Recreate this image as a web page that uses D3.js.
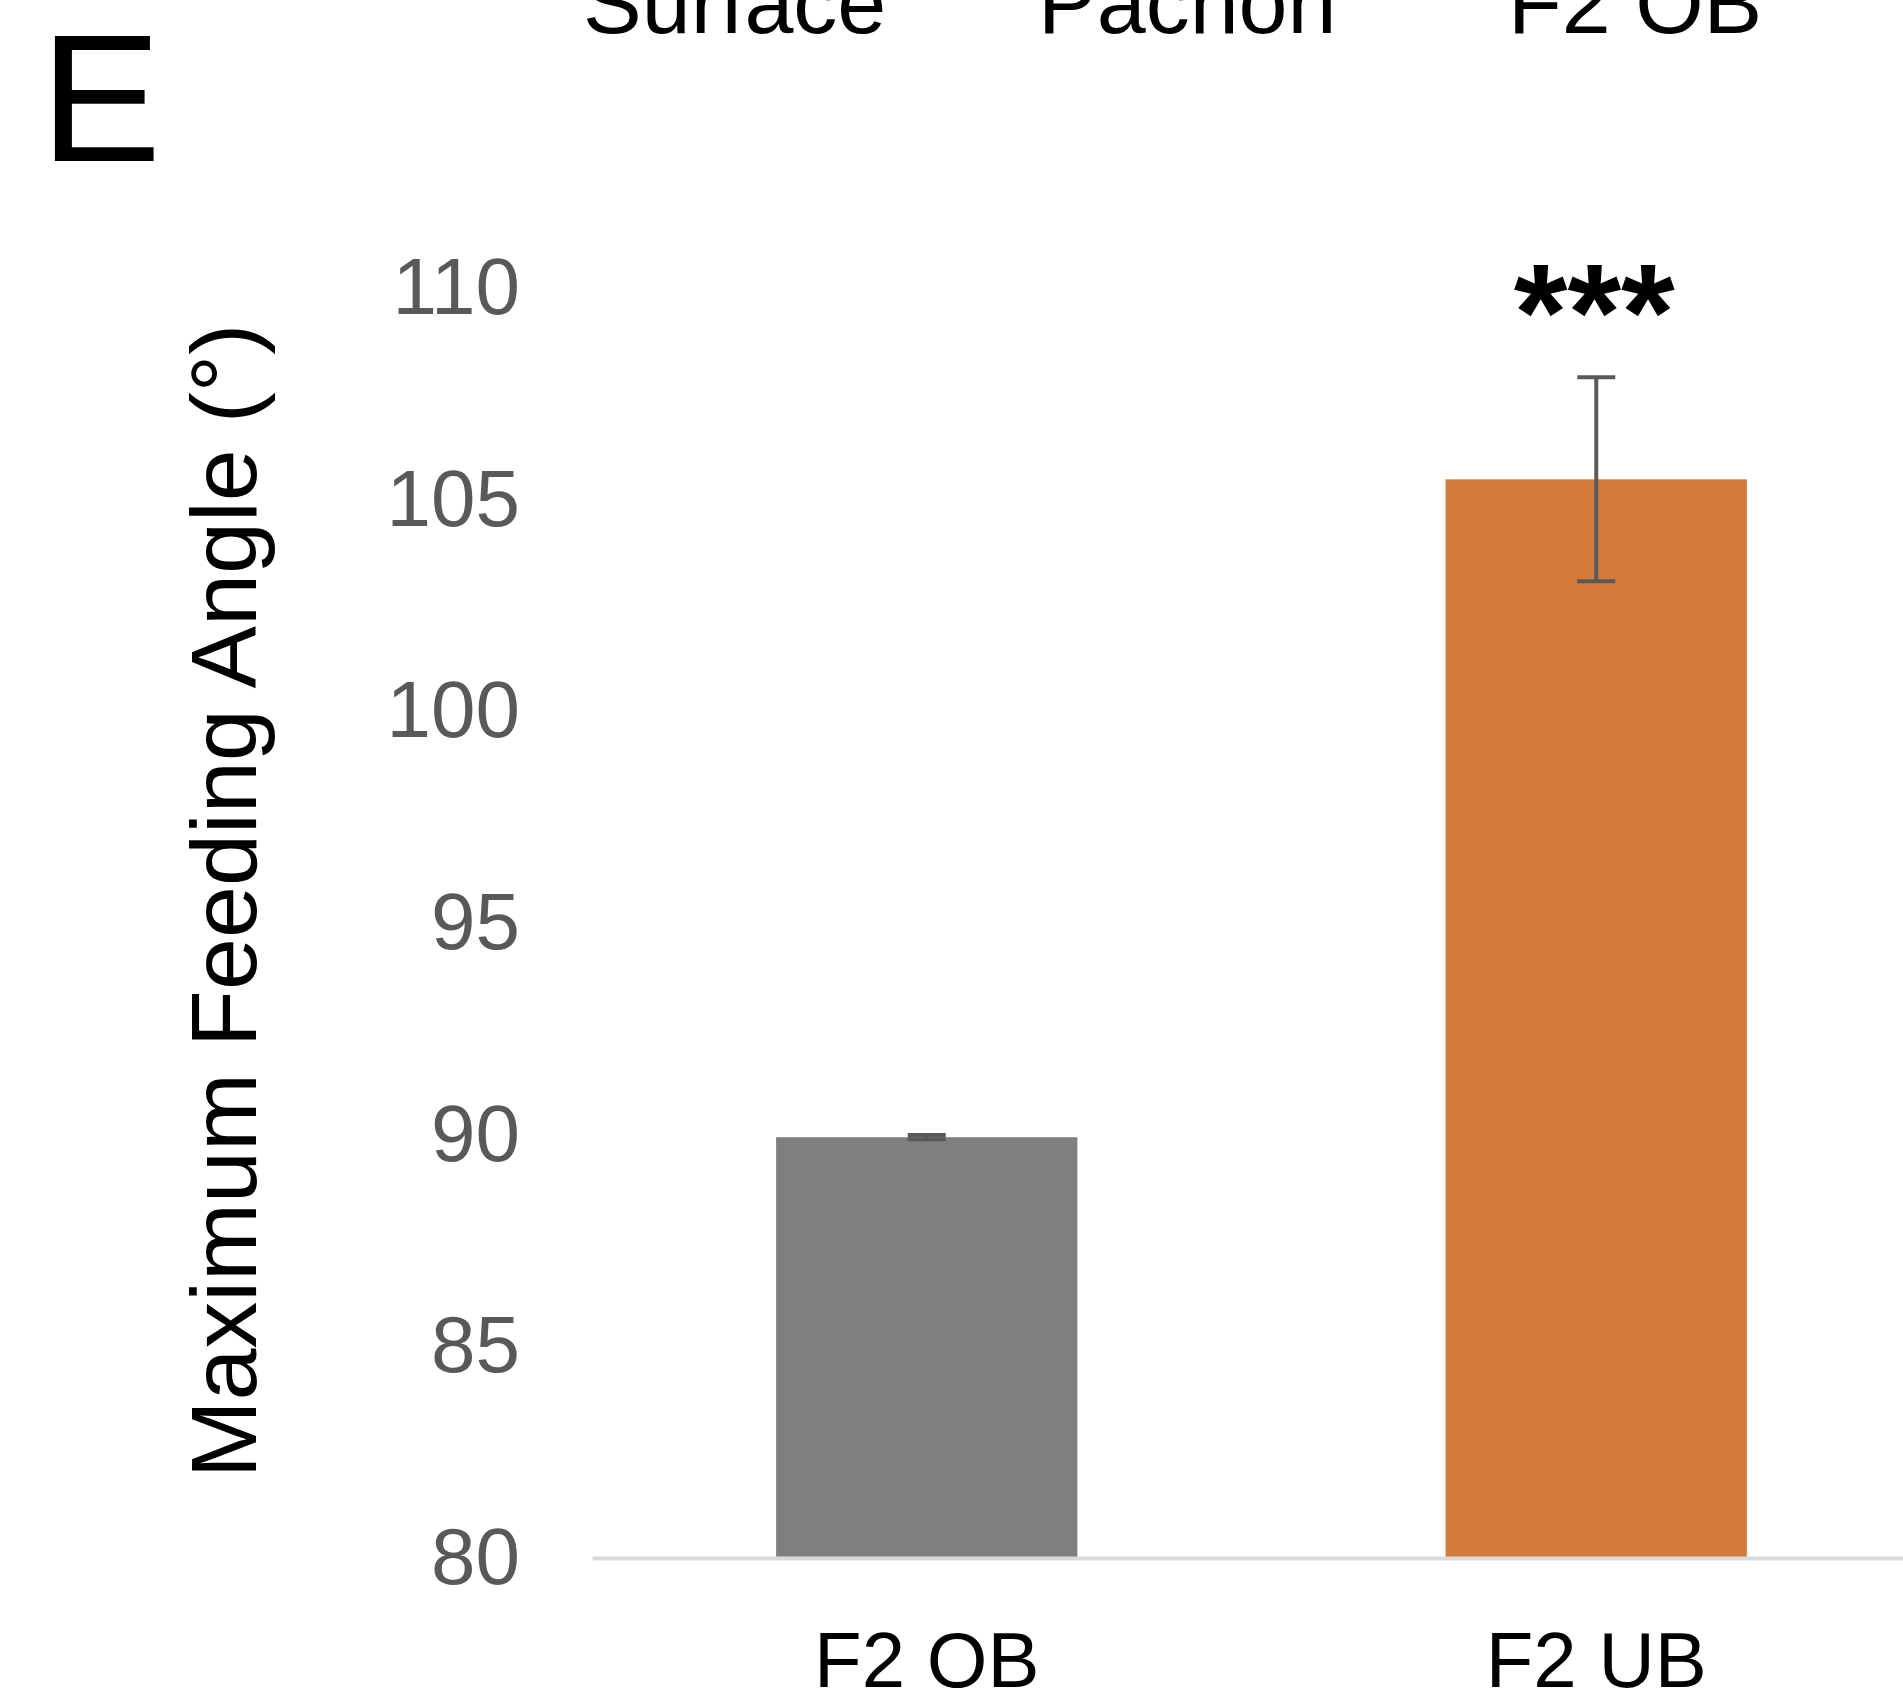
<!DOCTYPE html>
<html>
<head>
<meta charset="utf-8">
<script src="https://cdn.jsdelivr.net/npm/d3@7"></script>
<style>
  html, body { margin: 0; padding: 0; background: #fff; }
  svg { display: block; font-family: "Liberation Sans", Arial, sans-serif; }
</style>
</head>
<body>
<svg id="chart" width="1903" height="1703"></svg>
<script>
// Groups and their mean maximum feeding angle with error (degrees)
const groups = ["F2 OB", "F2 UB"];
const means = [89.94, 105.48];
const errors = [0.05, 2.41];
const barColors = ["#7f7f7f", "#d27b3a"];
const yTicks = [80, 85, 90, 95, 100, 105, 110];
const legendLabels = ["Surface", "Pachon", "F2 OB"];
const legendX = [583, 1038, 1508];
const significance = ["", "***"];

const svg = d3.select("#chart");

const x = d3.scaleBand()
  .domain(groups)
  .range([592, 1931])
  .paddingInner(0.55)
  .paddingOuter(0.275);

const y = d3.scaleLinear()
  .domain([80, 110])
  .range([1558, 288]);

// Panel letter
svg.append("text")
  .attr("x", 40).attr("y", 161)
  .attr("font-size", 182)
  .attr("fill", "#000")
  .text("E");

// Legend labels running off the top edge
svg.append("g").selectAll("text")
  .data(legendLabels)
  .join("text")
  .attr("x", (d, i) => legendX[i])
  .attr("y", 33)
  .attr("font-size", 88)
  .attr("fill", "#000")
  .text(d => d);

// Y axis (labels only)
const yAxis = svg.append("g")
  .attr("transform", "translate(592,0)")
  .call(d3.axisLeft(y).tickValues(yTicks).tickSize(0).tickPadding(72));
yAxis.select(".domain").remove();
yAxis.selectAll("text")
  .attr("font-size", 80)
  .attr("font-family", "Liberation Sans, Arial, sans-serif")
  .attr("fill", "#595959");

// Bars
svg.append("g").selectAll("rect")
  .data(groups)
  .join("rect")
  .attr("x", d => x(d))
  .attr("width", x.bandwidth())
  .attr("y", (d, i) => y(means[i]))
  .attr("height", (d, i) => y(80) - y(means[i]))
  .attr("fill", (d, i) => barColors[i]);

// X axis baseline and category labels
const xAxis = svg.append("g")
  .attr("transform", `translate(0,${y(80)})`)
  .call(d3.axisBottom(x).tickSize(0).tickSizeOuter(0).tickPadding(74));
xAxis.select(".domain")
  .attr("stroke", "#d9d9d9")
  .attr("stroke-width", 4);
xAxis.selectAll("text")
  .attr("font-size", 78)
  .attr("font-family", "Liberation Sans, Arial, sans-serif")
  .attr("fill", "#000");

// Error bars
const capHalf = 19;
const err = svg.append("g")
  .attr("stroke", "#595959")
  .attr("stroke-width", 4)
  .attr("fill", "none");
groups.forEach((g, i) => {
  const cx = x(g) + x.bandwidth() / 2;
  const top = y(means[i] + errors[i]);
  const bot = y(means[i] - errors[i]);
  err.append("line").attr("x1", cx).attr("x2", cx).attr("y1", top).attr("y2", bot);
  err.append("line").attr("x1", cx - capHalf).attr("x2", cx + capHalf).attr("y1", top).attr("y2", top);
  err.append("line").attr("x1", cx - capHalf).attr("x2", cx + capHalf).attr("y1", bot).attr("y2", bot);
});

// Significance markers
svg.append("g").selectAll("text")
  .data(groups)
  .join("text")
  .attr("x", d => x(d) + x.bandwidth() / 2 - 2)
  .attr("y", 360)
  .attr("text-anchor", "middle")
  .attr("font-size", 138)
  .attr("font-weight", "bold")
  .attr("fill", "#000")
  .text((d, i) => significance[i]);

// Y axis title
svg.append("text")
  .attr("transform", "translate(256,901) rotate(-90)")
  .attr("text-anchor", "middle")
  .attr("font-size", 93.5)
  .attr("fill", "#000")
  .text("Maximum Feeding Angle (°)");
</script>
</body>
</html>
